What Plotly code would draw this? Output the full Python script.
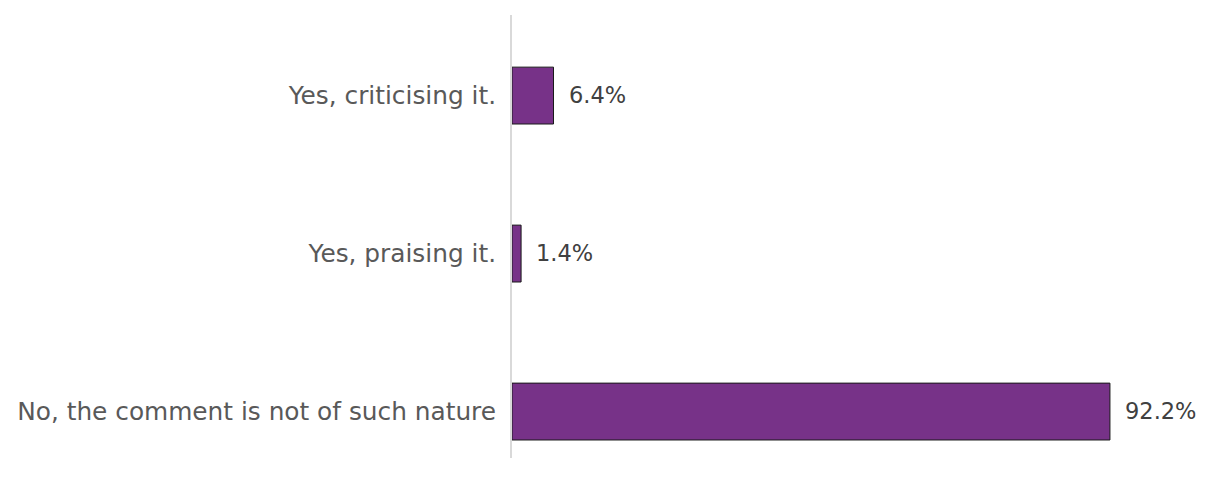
import plotly.graph_objects as go

categories = ["No, the comment is not of such nature", "Yes, praising it.", "Yes, criticising it."]
values = [92.2, 1.4, 6.4]
value_labels = ["92.2%", "1.4%", "6.4%"]

FONT = "DejaVu Sans"

fig = go.Figure(go.Bar(
    x=values, y=categories, orientation="h",
    marker=dict(color="#773288", line=dict(color="#1a1a1a", width=1)),
    width=0.36,
    hoverinfo="skip",
))
for v, c, t in zip(values, categories, value_labels):
    fig.add_annotation(x=v, y=c, text=t, showarrow=False, xanchor="left",
                       xshift=13, yshift=1,
                       font=dict(size=22.5, color="#404040", family=FONT))

fig.update_layout(
    width=1206, height=486,
    margin=dict(l=504, r=58, t=7, b=36),
    paper_bgcolor="white", plot_bgcolor="white",
    showlegend=False,
    xaxis=dict(range=[0, 99.3], visible=False),
    yaxis=dict(range=[-0.294, 2.51], showline=True, linecolor="#d9d9d9", linewidth=2,
               ticks="", ticklabelstandoff=9, showgrid=False,
               tickfont=dict(size=24.8, color="#595959", family=FONT)),
    font=dict(family=FONT),
)
fig.write_html("out.html")
